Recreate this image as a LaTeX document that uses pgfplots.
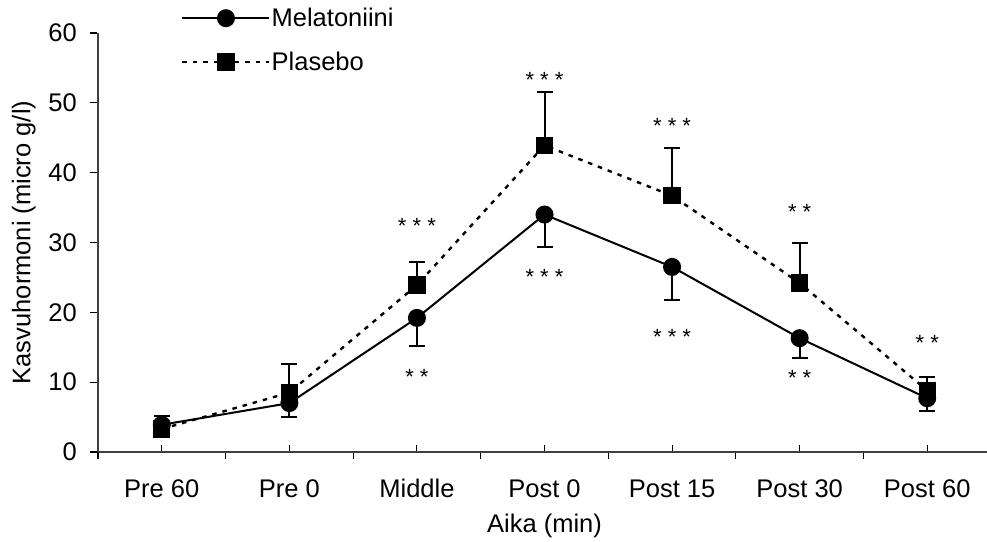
\documentclass[border=0pt]{standalone}
\usepackage{pgfplots}
\pgfplotsset{compat=1.18}
\usepackage{fontspec}
\setmainfont{Liberation Sans}
\newcommand\bigf{\fontsize{25.5bp}{30bp}\selectfont}
\newcommand\starf{\fontsize{22bp}{26bp}\selectfont}

\pgfplotstableread{
x y e
0 3.9 1.8
1 7.0 2.0
2 19.2 4.0
3 34.0 4.6
4 26.5 4.7
5 16.3 2.8
6 7.7 1.8
}\mel

\pgfplotstableread{
x y e
0 3.3 1.9
1 8.5 4.1
2 23.9 3.3
3 43.9 7.7
4 36.7 6.8
5 24.2 5.7
6 8.8 1.9
}\pla

\begin{document}
\begin{tikzpicture}
\begin{axis}[
  scale only axis, width=893bp, height=419bp,
  xmin=-0.5, xmax=6.5, ymin=0, ymax=60,
  axis x line*=bottom, axis y line*=left,
  axis line style={black!75, line width=1.1bp, -},
  tick align=inside,
  xtick={0,...,6},
  xticklabels={Pre 60, Pre 0, Middle, Post 0, Post 15, Post 30, Post 60},
  minor xtick={-0.5,0.5,...,6.5},
  ytick={0,10,...,60},
  major tick length=7bp, minor tick length=7bp,
  every tick/.style={black, line width=1.1bp},
  minor tick style={yshift=-7bp},
  y tick style={xshift=-8bp},
  /pgf/number format/assume math mode=true,
  tick label style={font=\bigf},
  xticklabel style={anchor=base, yshift=-46bp, inner sep=0pt},
  yticklabel style={anchor=east, xshift=-21bp, inner sep=0pt},
  xlabel={Aika (min)},
  ylabel={Kasvuhormoni (micro g/l)},
  label style={font=\bigf},
  xlabel style={at={(axis description cs:0.5,-0.191)}, anchor=base},
  ylabel style={at={(axis description cs:-0.083,0.5)}, anchor=center},
  legend image code/.code={\draw[mark repeat=2,mark phase=2,#1] plot coordinates {(0bp,0bp)(43.5bp,0bp)(87bp,0bp)};},
  legend style={at={(axis description cs:0.093,1.062)}, anchor=north west, draw=none, fill=none,
    font=\bigf, row sep=22bp, inner sep=0pt, nodes={inner xsep=1bp, inner ysep=1bp}},
  legend cell align=left,
  clip=false,
]
\addplot[black, line width=2bp, mark=*, mark size=8bp, mark options={solid},
  error bars/.cd, y dir=minus, y explicit,
  error bar style={line width=2bp, solid},
  error mark options={black, mark size=8bp, line width=2bp, rotate=90}]
  table[x=x, y=y, y error=e] {\mel};
\addlegendentry{Melatoniini}
\addplot[black, line width=2.4bp, dash pattern=on 4.5bp off 6bp, mark=square*, mark size=7.5bp, mark options={solid},
  error bars/.cd, y dir=plus, y explicit,
  error bar style={line width=2bp, solid},
  error mark options={black, mark size=8bp, line width=2bp, rotate=90}]
  table[x=x, y=y, y error=e] {\pla};
\addlegendentry{Plasebo}

\begin{scope}[every node/.style={font=\starf, anchor=base, yshift=-12.5bp, inner sep=0pt}]
\node at (axis cs:2,33.1) {* * *};
\node at (axis cs:2,11.5) {* *};
\node at (axis cs:3,54.0) {* * *};
\node at (axis cs:3,25.8) {* * *};
\node at (axis cs:4,47.4) {* * *};
\node at (axis cs:4,17.2) {* * *};
\node at (axis cs:5,35.1) {* *};
\node at (axis cs:5,11.3) {* *};
\node at (axis cs:6,16.3) {* *};
\end{scope}
\end{axis}
\pgfresetboundingbox
\path ([xshift=-98bp,yshift=-90bp]current axis.south west) rectangle ([xshift=-4bp,yshift=33bp]current axis.north east);
\end{tikzpicture}
\end{document}
